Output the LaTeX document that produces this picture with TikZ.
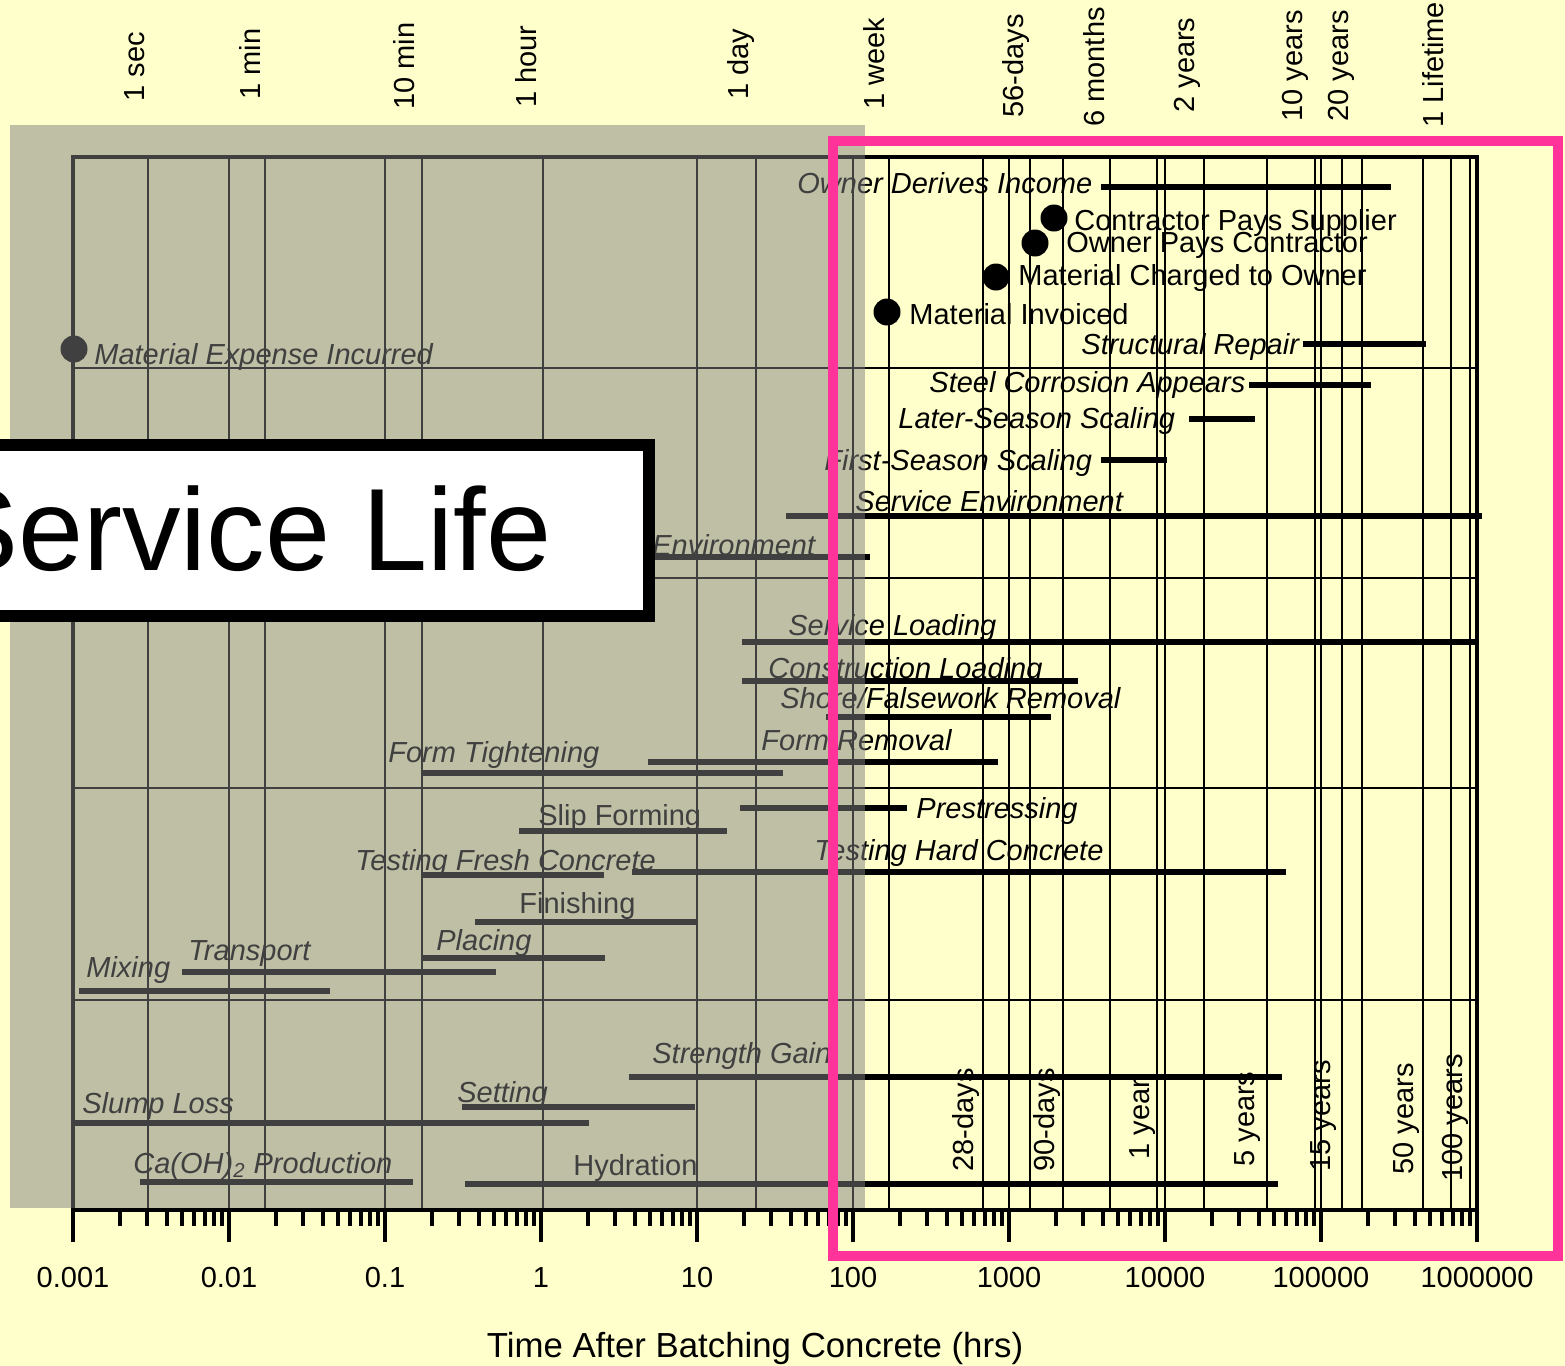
\documentclass[tikz,border=0pt]{standalone}
\usepackage{fontspec}
\setmainfont{Liberation Sans}
\definecolor{bgyellow}{HTML}{FFFFCC}
\definecolor{hotpink}{HTML}{FF3399}
\begin{document}
\begin{tikzpicture}[x=0.5pt,y=-0.5pt,
  lab/.style={anchor=base west,inner sep=0pt,font=\fontsize{14.5}{17}\selectfont\itshape},
  ulab/.style={anchor=base west,inner sep=0pt,font=\fontsize{14.5}{17}\selectfont},
  vlab/.style={rotate=90,anchor=base west,inner sep=0pt,font=\fontsize{14.5}{17}\selectfont},
  ticklab/.style={anchor=base,inner sep=0pt,font=\fontsize{14.5}{17}\selectfont},
  bar/.style={line width=2.8pt},
  gridline/.style={line width=1.25pt},
  framel/.style={line width=2.3pt},
  tickl/.style={line width=2pt},
  dotmark/.style={circle,fill=black,minimum size=13.5pt,inner sep=0pt}]

\useasboundingbox (0,0) rectangle (1565,1366);
\clip (0,0) rectangle (1565,1366);
\fill[bgyellow] (0,0) rectangle (1565,1366);

% grid
\foreach \gx in {148,229,265,385,422,543,697,756,853,889,983,1009,1030,1063,1110,1157,1165,1204,1267,1315,1321,1342,1362,1423,1451,1470}
  \draw[gridline] (\gx,157) -- (\gx,1210);
\foreach \gy in {368,578,788,1000}
  \draw[gridline] (73,\gy) -- (1477,\gy);
\draw[framel] (73,1242) -- (73,157) -- (1477,157) -- (1477,1242);
\draw[framel] (73,1210) -- (1477,1210);

% ticks
\foreach \d in {0,...,8}{
  \foreach \m in {2,...,9}
    \draw[tickl] ({73+156*\d+156*log10(\m)},1210) -- ++(0,16);
  \draw[tickl] ({73+156*\d},1210) -- ++(0,32);
}
\foreach \k/\t in {0/0.001,1/0.01,2/0.1,3/1,4/10,5/100,6/1000,7/10000,8/100000,9/1000000}
  \node[ticklab] (tl\k) at ({73+156*\k},1287) {\t};
\node[anchor=base,inner sep=0pt,font=\fontsize{17.4}{20}\selectfont] (title) at (755,1357) {Time After Batching Concrete (hrs)};

% top time labels
\node[vlab] (t1) at (144,102) {1 sec};
\node[vlab] (t2) at (260,100) {1 min};
\node[vlab] (t3) at (414,110) {10 min};
\node[vlab] (t4) at (536,108) {1 hour};
\node[vlab] (t5) at (748,100) {1 day};
\node[vlab] (t6) at (884,110) {1 week};
\node[vlab] (t7) at (1023,118) {56-days};
\node[vlab] (t8) at (1104,127) {6 months};
\node[vlab] (t9) at (1194,113) {2 years};
\node[vlab] (t10) at (1302,122) {10 years};
\node[vlab] (t11) at (1348,122) {20 years};
\node[vlab] (t12) at (1443,128) {1 Lifetime};

% bottom time labels
\node[vlab] (b1) at (973,1172) {28-days};
\node[vlab] (b2) at (1054,1172) {90-days};
\node[vlab] (b3) at (1149,1160) {1 year};
\node[vlab] (b4) at (1254,1167) {5 years};
\node[vlab] (b5) at (1330,1172) {15 years};
\node[vlab] (b6) at (1413,1175) {50 years};
\node[vlab] (b7) at (1462,1182) {100 years};

% bars
\foreach \xa/\xb/\yy in {1101/1391/187, 1303/1426/344, 1249/1371/385, 1189/1255/419, 1101/1167/460,
  786/1482/516, 600/870/557, 742/1477/642, 742/1078/681, 826/1051/717, 648/998/762, 422/783/773,
  740/907/808, 519/727/831, 422/604/875, 632/1286/872, 475/698/922, 422/605/958, 182/496/972,
  79/330/991, 629/1282/1077, 462/695/1107, 72/589/1123, 140/413/1182, 465/1278/1184}
  \draw[bar] (\xa,\yy) -- (\xb,\yy);

% dots
\node[dotmark] (d1) at (1054,218) {};
\node[dotmark] (d2) at (1035,243) {};
\node[dotmark] (d3) at (996,277) {};
\node[dotmark] (d4) at (887,312) {};
\node[dotmark] (d5) at (74,349) {};

% labels
\node[lab] (n1) at (797,193) {Owner Derives Income};
\node[ulab] (n2) at (1074,230) {Contractor Pays Supplier};
\node[ulab] (n3) at (1066,252) {Owner Pays Contractor};
\node[ulab] (n4) at (1018,285) {Material Charged to Owner};
\node[ulab] (n5) at (909,324) {Material Invoiced};
\node[lab] (n6) at (1081,354) {Structural Repair};
\node[lab] (n7) at (929,392) {Steel Corrosion Appears};
\node[lab] (n8) at (898,428) {Later-Season Scaling};
\node[lab] (n9) at (824,470) {First-Season Scaling};
\node[lab] (n10) at (855,511) {Service Environment};
\node[lab] (n11) at (652,555) {Environment};
\node[lab] (n12) at (788,635) {Service Loading};
\node[lab] (n13) at (768,678) {Construction Loading};
\node[lab] (n14) at (780,708) {Shore/Falsework Removal};
\node[lab] (n15) at (761,750) {Form Removal};
\node[lab] (n16) at (388,762) {Form Tightening};
\node[lab] (n17) at (916,818) {Prestressing};
\node[ulab] (n18) at (538,825) {Slip Forming};
\node[lab] (n19) at (814,860) {Testing Hard Concrete};
\node[lab] (n20) at (355,870) {Testing Fresh Concrete};
\node[ulab] (n21) at (519,913) {Finishing};
\node[lab] (n22) at (436,950) {Placing};
\node[lab] (n23) at (188,960) {Transport};
\node[lab] (n24) at (86,977) {Mixing};
\node[lab] (n25) at (652,1063) {Strength Gain};
\node[lab] (n26) at (457,1102) {Setting};
\node[lab] (n27) at (82,1113) {Slump Loss};
\node[lab] (n28) at (133,1173) {Ca(OH)\textsubscript{2} Production};
\node[ulab] (n29) at (573,1175) {Hydration};
\node[lab] (n30) at (94,364) {Material Expense Incurred};

% gray overlay
\fill[gray,opacity=0.5] (10,125) rectangle (865,1208);

% service life box
\draw[line width=6pt,fill=white] (-60,445) rectangle (649,616);
\node[anchor=base east,inner sep=0pt,font=\fontsize{58.5}{68}\selectfont] (sl) at (552,570) {Service Life};

% pink frame
\draw[hotpink,line width=5pt] (833,141) rectangle (1558,1256);
\end{tikzpicture}
\end{document}
